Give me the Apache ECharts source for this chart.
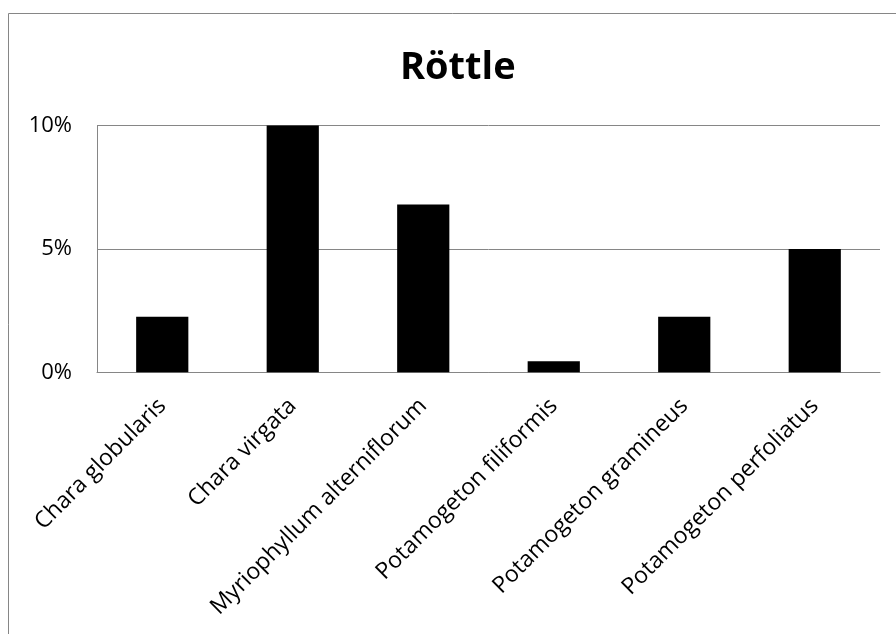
<!DOCTYPE html>
<html>
<head>
<meta charset="utf-8">
<script src="https://cdn.jsdelivr.net/npm/echarts@6/dist/echarts.min.js"></script>
<style>
html,body{margin:0;padding:0;background:#fff;}
#chart{width:896px;height:634px;}
</style>
</head>
<body>
<div id="chart"></div>
<script>
const titleText = 'Röttle';
const categories = ['Chara globularis', 'Chara virgata', 'Myriophyllum alterniflorum', 'Potamogeton filiformis', 'Potamogeton gramineus', 'Potamogeton perfoliatus'];
const values = [2.25, 10, 6.8, 0.45, 2.25, 5];
const yTicks = [0, 5, 10];

const chart = echarts.init(document.getElementById('chart'), null, {renderer: 'canvas'});
const gray = '#868686';
chart.setOption({
  animation: false,
  backgroundColor: '#fff',
  title: {
    text: titleText,
    left: 400,
    top: 49,
    padding: 0,
    textStyle: {fontFamily: 'Open Sans', fontWeight: 'bold', fontSize: 38, color: '#000'}
  },
  graphic: [{
    type: 'rect',
    shape: {x: 8.5, y: 13.5, width: 1000, height: 1000},
    style: {fill: 'none', stroke: gray, lineWidth: 1},
    silent: true,
    z: -1
  }],
  grid: {left: 97, right: 16, top: 125.5, bottom: 261.7, containLabel: false},
  xAxis: {
    type: 'category',
    data: categories,
    axisLine: {show: true, lineStyle: {color: gray, width: 1}},
    axisTick: {show: false},
    axisLabel: {rotate: 45, interval: 0, margin: 30, fontFamily: 'Open Sans', fontSize: 23, color: '#000'}
  },
  yAxis: {
    type: 'value',
    min: yTicks[0],
    max: yTicks[yTicks.length - 1],
    interval: yTicks[1] - yTicks[0],
    axisLine: {show: true, lineStyle: {color: gray, width: 1}},
    axisTick: {show: false},
    splitLine: {show: true, lineStyle: {color: gray, width: 1}},
    axisLabel: {formatter: '{value}%', margin: 25, fontFamily: 'Open Sans', fontSize: 22, color: '#000'}
  },
  series: [{
    type: 'bar',
    data: values,
    barWidth: '40%',
    itemStyle: {color: '#000'}
  }]
});
</script>
</body>
</html>
